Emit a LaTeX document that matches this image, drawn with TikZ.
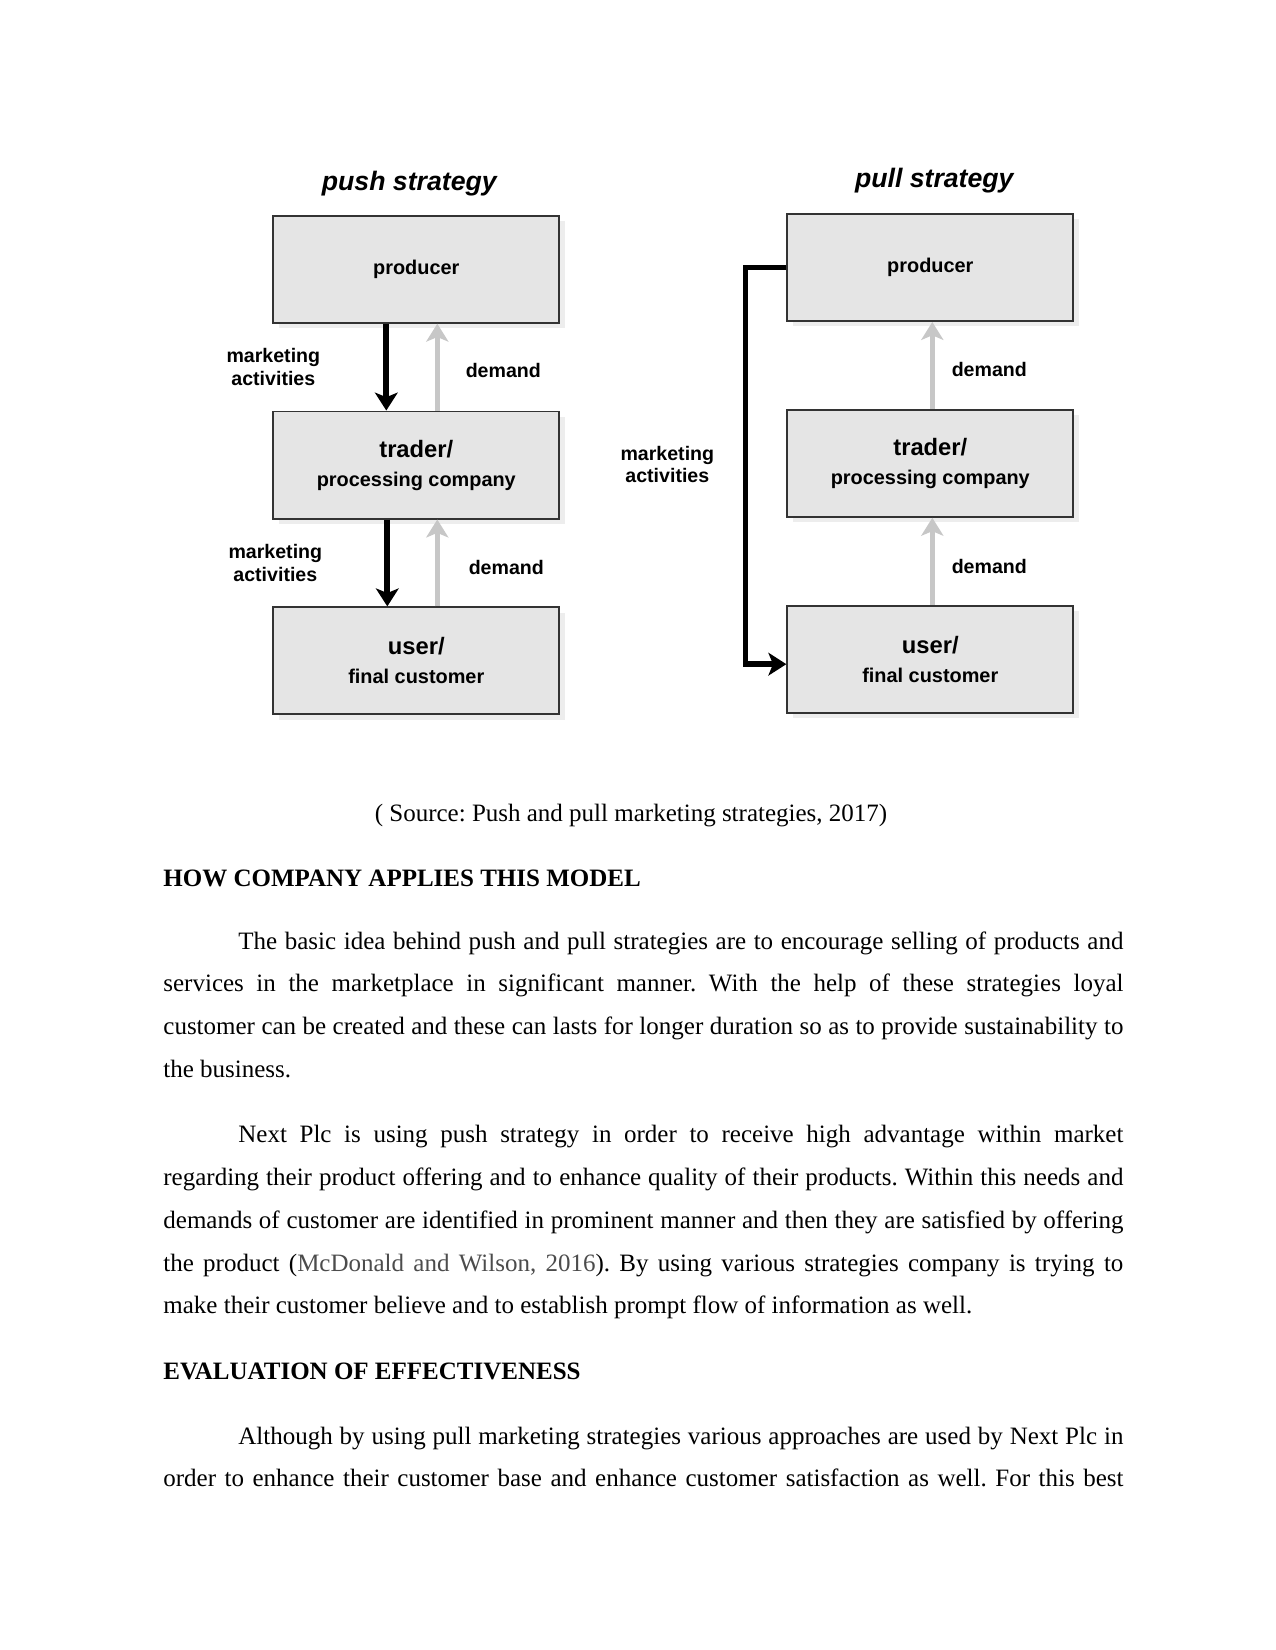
\documentclass[tikz,border=0pt]{standalone}
\usepackage{fontspec}
\setmainfont{Liberation Serif}
\newfontfamily\diafont{Liberation Sans}
\usetikzlibrary{positioning,calc,arrows.meta,shadows}

\frenchspacing
\tolerance=9999
\hyphenpenalty=10000

% bigger first line inside a stage box
\newcommand\stagehead[1]{{\fontsize{11.4}{13.9}\selectfont #1}}

\begin{document}
\begin{tikzpicture}[
  x=0.48pt, y=-0.48pt,
  every node/.style={inner sep=0pt},
  stagebox/.style={
    rectangle, draw=black!80, line width=0.9pt,
    fill=black!10,
    drop shadow={shadow xshift=2.6pt, shadow yshift=-2.6pt, fill=black!7, opacity=1},
    align=center,
    minimum width=137.3pt, minimum height=51.4pt,
    font=\diafont\bfseries\fontsize{9.55}{13.9}\selectfont,
  },
  stitle/.style={anchor=base, font=\diafont\bfseries\itshape\fontsize{12.8}{15}\selectfont},
  actlabel/.style={align=center, font=\diafont\bfseries\fontsize{9.4}{10.7}\selectfont},
  dmdlabel/.style={font=\diafont\bfseries\fontsize{9.4}{11}\selectfont},
  pushline/.style={draw=black, line width=2.7pt,
    -{Stealth[length=8.6pt,width=10.9pt,inset=2.2pt]}},
  demandline/.style={draw=black!22, line width=2.4pt,
    -{Stealth[length=8.6pt,width=10.6pt,inset=2.2pt]}},
  bodypar/.style={anchor=base west, text width=460.8pt, align=justify,
    font=\fontsize{12}{20.6}\selectfont},
  headline/.style={anchor=base west, font=\bfseries\fontsize{12}{14}\selectfont},
]

% ----- page -----
\fill[white] (0,0) rectangle (1275,1650);
\useasboundingbox (0,0) rectangle (1275,1650);

% ----- push strategy -----
\node[stagebox] (pushprod) at (416.3,269.2) {producer};
\node[stagebox, below=41.7pt of pushprod] (pushtrader)
  {\stagehead{trader/}\\processing company};
\node[stagebox, below=41.7pt of pushtrader] (pushuser)
  {\stagehead{user/}\\final customer};
\node[stitle] (pushtitle) at ($(pushprod.north)+(-7,-24)$) {push strategy};

\draw[pushline] ($(pushprod.south)+(-30,0)$) -- ($(pushtrader.north)+(-30,0)$);
\draw[demandline] ($(pushtrader.north)+(21,0)$) -- ($(pushprod.south)+(21,0)$);
\draw[pushline] ($(pushtrader.south)+(-29,0)$) -- ($(pushuser.north)+(-29,0)$);
\draw[demandline] ($(pushuser.north)+(21,0)$) -- ($(pushtrader.south)+(21,0)$);

\node[actlabel] (pushact1) at ($(pushprod.south west)!0.5!(pushtrader.north west)+(1,0)$)
  {marketing\\activities};
\node[actlabel] (pushact2) at ($(pushtrader.south west)!0.5!(pushuser.north west)+(3,0)$)
  {marketing\\activities};
\node[dmdlabel] (pushdmd1) at ($(pushprod.south)!0.5!(pushtrader.north)+(87,3)$) {demand};
\node[dmdlabel] (pushdmd2) at ($(pushtrader.south)!0.5!(pushuser.north)+(90,5)$) {demand};

% ----- pull strategy -----
\node[stagebox] (pullprod) at (930.3,267.5) {producer};
\node[stagebox, below=41.7pt of pullprod] (pulltrader)
  {\stagehead{trader/}\\processing company};
\node[stagebox, below=41.7pt of pulltrader] (pulluser)
  {\stagehead{user/}\\final customer};
\node[stitle] (pulltitle) at ($(pullprod.north)+(4,-26)$) {pull strategy};

\draw[demandline] ($(pulltrader.north)+(2,0)$) -- ($(pullprod.south)+(2,0)$);
\draw[demandline] ($(pulluser.north)+(2,0)$) -- ($(pulltrader.south)+(2,0)$);
\draw[pushline] (pullprod.west) -- ++(-41,0) |- ($(pulluser.west)+(0,5)$);

\node[actlabel] (pullact) at ($(pullprod.south west)!0.5!(pulluser.north west)+(-119,1)$)
  {marketing\\activities};
\node[dmdlabel] (pulldmd1) at ($(pullprod.south)!0.5!(pulltrader.north)+(59,4)$) {demand};
\node[dmdlabel] (pulldmd2) at ($(pulltrader.south)!0.5!(pulluser.north)+(59,5)$) {demand};

% ----- source and text -----
\node[anchor=base, font=\fontsize{12}{14}\selectfont] (src) at (631,821)
  {( Source: Push and pull marketing strategies, 2017)};

\node[headline] (headhow) at (163,886) {HOW COMPANY APPLIES THIS MODEL};

\node[bodypar] (para1) at (163,949)
  {\hspace*{36pt}The basic idea behind push and pull strategies are to encourage selling of products and\linebreak
   services in the marketplace in significant manner. With the help of these strategies loyal\linebreak
   customer can be created and these can lasts for longer duration so as to provide sustainability to\linebreak
   the business.};

\node[bodypar] (para2) at (163,1142.3)
  {\hspace*{36pt}Next Plc is using push strategy in order to receive high advantage within market\linebreak
   regarding their product offering and to enhance quality of their products. Within this needs and\linebreak
   demands of customer are identified in prominent manner and then they are satisfied by offering\linebreak
   the product ({\color{black!70}McDonald and Wilson, 2016}). By using various strategies company is trying to\linebreak
   make their customer believe and to establish prompt flow of information as well.};

\node[headline] (headeval) at (163,1379.7) {EVALUATION OF EFFECTIVENESS};

% last line runs on to the next page, so it is justified too
\node[bodypar] (para3) at (163,1444)
  {\hspace*{36pt}Although by using pull marketing strategies various approaches are used by Next Plc in\linebreak
   order to enhance their customer base and enhance customer satisfaction as well. For this best\linebreak};

\end{tikzpicture}
\end{document}
